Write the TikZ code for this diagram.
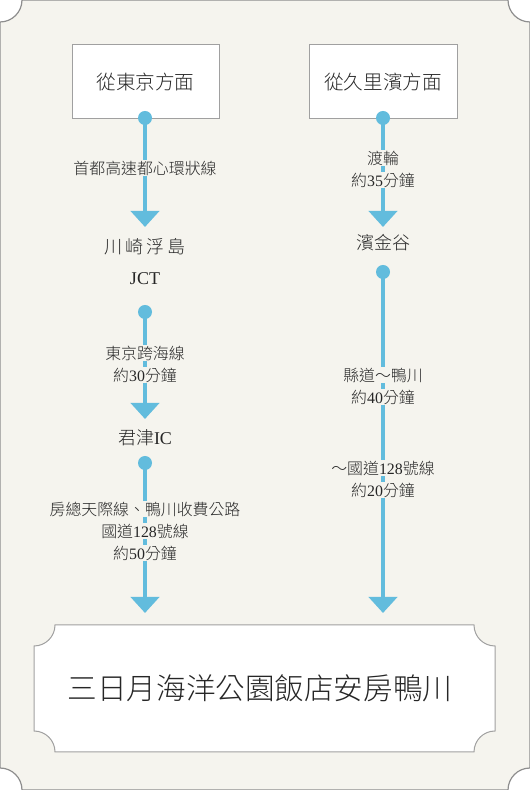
\documentclass[tikz,border=0pt]{standalone}
\usepackage{fontspec}
\setmainfont{Noto Sans CJK TC}[UprightFont=* Light]
\newfontfamily\lat{Liberation Serif}
\usetikzlibrary{arrows.meta}
\definecolor{bg}{HTML}{F5F4EE}
\definecolor{frame}{HTML}{8E8E8E}
\definecolor{boxline}{HTML}{A0A0A0}
\definecolor{route}{HTML}{62BCDD}
\definecolor{ink}{HTML}{262626}
\tikzset{
  x=1pt,y=1pt,
  startbox/.style={draw=boxline,line width=1pt,fill=white,minimum width=147pt,minimum height=74pt,inner sep=0pt,font=\fontsize{19.6}{22}\selectfont,text=ink},
  station/.style={inner sep=1pt,font=\fontsize{18}{21}\selectfont,text=ink},
  lbl/.style={fill=bg,inner sep=0.8pt,font=\fontsize{15.9}{18}\selectfont,text=ink},
  routedot/.style={circle,fill=route,inner sep=0pt,minimum size=14pt},
  routeline/.style={draw=route,line width=4.5pt,-{Triangle[width=28pt,length=16pt]}},
}
\begin{document}
\begin{tikzpicture}
\useasboundingbox (0,0) rectangle (530,790);
% outer frame
\draw[frame,line width=1.2pt,fill=bg]
  (22,790) -- (508,790) arc[start angle=180,end angle=270,radius=22]
  -- (530,22) arc[start angle=90,end angle=180,radius=22]
  -- (22,0) arc[start angle=0,end angle=90,radius=22]
  -- (0,768) arc[start angle=270,end angle=360,radius=22] -- cycle;
% destination box
\draw[boxline,line width=1pt,fill=white]
  (55,165) -- (474,165) arc[start angle=180,end angle=270,radius=21]
  -- (495,59) arc[start angle=90,end angle=180,radius=21]
  -- (55,38) arc[start angle=0,end angle=90,radius=21]
  -- (34,144) arc[start angle=270,end angle=360,radius=21] -- cycle;
\node[text=ink,font=\fontsize{29.6}{32}\selectfont,inner sep=0pt] (hotel) at (260,102) {三日月海洋公園飯店安房鴨川};

% start boxes
\node[startbox] (tokyo) at (145.5,708) {從東京方面};
\node[startbox,minimum width=148pt] (kuri) at (383,708) {從久里濱方面};

% arrow tip coordinates
\coordinate (tipA) at (145,563);
\coordinate (tipB) at (145,371);
\coordinate (tipC) at (145,177);
\coordinate (tipD) at (383,563);
\coordinate (tipE) at (383,177);

% dots
\node[routedot] (dA) at (145,672) {};
\node[routedot] (dB) at (145,478) {};
\node[routedot] (dC) at (145,327) {};
\node[routedot] (dD) at (383,672) {};
\node[routedot] (dE) at (383,518) {};

% routes
\draw[routeline] (dA.center) -- (tipA);
\draw[routeline] (dB.center) -- (tipB);
\draw[routeline] (dC.center) -- (tipC);
\draw[routeline] (dD.center) -- (tipD);
\draw[routeline] (dE.center) -- (tipE);

% stations
\node[station] (kawasaki) at (145,543) {川\hspace{3pt}崎\hspace{3pt}浮\hspace{3pt}島};
\node[station] (jct) at (145,511) {\lat JCT};
\node[station] (kisarazu) at (145,352) {君津{\lat IC}};
\node[station] (kanaya) at (383,547) {濱金谷};

% labels left
\node[lbl] (l1) at (145,622) {首都高速都心環狀線};
\node[lbl] (l2a) at (145,437) {東京跨海線};
\node[lbl] (l2b) at (145,415) {約{\lat 30}分鐘};
\node[lbl] (l3a) at (145,281) {房總天際線、鴨川收費公路};
\node[lbl] (l3b) at (145,259) {國道{\lat 128}號線};
\node[lbl] (l3c) at (145,237) {約{\lat 50}分鐘};

% labels right
\node[lbl] (r1a) at (383,632) {渡輪};
\node[lbl] (r1b) at (383,610) {約{\lat 35}分鐘};
\node[lbl] (r2a) at (383,415) {縣道～鴨川};
\node[lbl] (r2b) at (383,393) {約{\lat 40}分鐘};
\node[lbl] (r3a) at (383,322) {～國道{\lat 128}號線};
\node[lbl] (r3b) at (383,300) {約{\lat 20}分鐘};
\end{tikzpicture}
\end{document}
